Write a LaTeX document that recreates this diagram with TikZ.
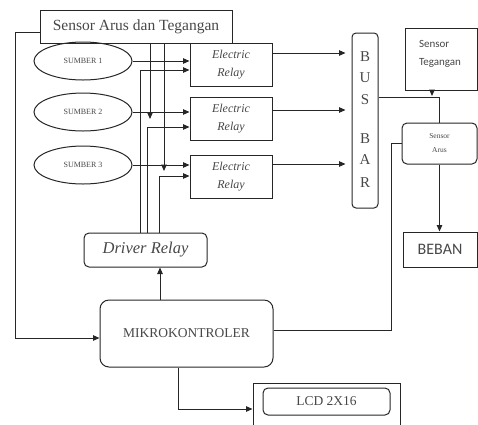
\documentclass[tikz,border=0pt]{standalone}
\usepackage{fontspec}
\setmainfont{Liberation Serif}
\newfontfamily\calfont{Carlito}
\usetikzlibrary{arrows.meta,shapes.geometric,calc}
\begin{document}
\begin{tikzpicture}[x=1pt,y=-1pt,
  box/.style={draw=black!85, line width=1pt, inner sep=0pt, align=center, text=black!72},
  rbox/.style={box, rounded corners=5pt},
  wire/.style={draw=black!85, line width=1pt},
  arr/.style={wire, -{Triangle[length=6.5pt,width=5.5pt]}},
  lbl/.style={inner sep=0pt, text=black!72, align=center},
]
\useasboundingbox (0,0) rectangle (478,424);
\clip (0,0) rectangle (478,424);

% boxes
\node[box, minimum width=192, minimum height=33, font=\fontsize{15.5}{17}\selectfont] (sens) at (136,26.5) {Sensor Arus dan Tegangan};
\foreach \n/\y/\t in {s1/61/SUMBER 1, s2/112/SUMBER 2, s3/165/SUMBER 3}
  \node[box, ellipse, minimum width=98, minimum height=38, font=\fontsize{8}{9}\selectfont] (\n) at (83,\y) {\t};
\foreach \n/\y in {r1/64.5, r2/118.5, r3/176.5}
  \node[box, minimum width=82, minimum height=43, font=\fontsize{12}{18}\selectfont\itshape] (\n) at (231,\y) {Electric\\Relay};
\node[rbox, rounded corners=4pt, minimum width=26, minimum height=175] (bus) at (365,120.5) {};
\foreach \l/\y [count=\i] in {B/57, U/78, S/100, B/139, A/160, R/183}
  \node[lbl, font=\fontsize{15}{15}\selectfont] (bl\i) at (365,\y) {\l};
\node[box, minimum width=72, minimum height=62] (st) at (441,59) {};
\node[lbl, align=left, font=\calfont\fontsize{11}{18}\selectfont] (sttxt) at (440,54) {Sensor\\Tegangan};
\node[rbox, minimum width=75, minimum height=41, font=\fontsize{7.5}{14}\selectfont] (sa) at (439.5,143.5) {Sensor\\Arus};
\node[box, minimum width=74, minimum height=35, font=\calfont\fontsize{16}{18}\selectfont] (bb) at (440,249.5) {BEBAN};
\node[rbox, minimum width=123, minimum height=34, font=\fontsize{16.5}{18}\selectfont\itshape] (dr) at (145.5,250) {Driver Relay};
\node[rbox, rounded corners=9pt, minimum width=173, minimum height=67, font=\fontsize{13.5}{15}\selectfont] (mk) at (186.5,333.5) {MIKROKONTROLER};
\node[box, minimum width=147, minimum height=52] (lcdo) at (326.5,409) {};
\node[rbox, minimum width=127, minimum height=27, font=\fontsize{13.5}{15}\selectfont] (lcd) at (326.5,401.5) {LCD 2X16};

% free ends
\coordinate (j2) at (150,119);
\coordinate (j3) at (164,171);
\coordinate (jt) at (432,96);

% connectors
\draw[arr] (sens.west |- 0,32) -| (15,338) -- (mk.west |- 0,338);
\draw[arr] (s1.east) -- (r1.west |- s1.east);
\draw[arr] (s2.east) -- (r2.west |- s2.east);
\draw[arr] (s3.east) -- (r3.west |- s3.east);
\draw[arr] (dr.north -| 140,0) |- (r1.west |- 0,70);
\draw[arr] (dr.north -| 147,0) |- (r2.west |- 0,127);
\draw[arr] (dr.north -| 159,0) |- (r3.west |- 0,176);
\draw[arr] (sens.south -| j2) -- (j2);
\draw[arr] (sens.south -| j3) -- (j3);
\draw[arr, shorten >=6pt] (r1.east |- 0,53) -- (bus.west |- 0,53);
\draw[arr, shorten >=6pt] (r2.east |- 0,110) -- (bus.west |- 0,110);
\draw[arr, shorten >=6pt] (r3.east |- 0,164) -- (bus.west |- 0,164);
\draw[wire] (bus.east |- 0,97) -| (sa.north);
\draw[arr] (st.south -| jt) -- (jt);
\draw[arr] (sa.south) -- (sa.south |- bb.north);
\draw[wire] (sa.west) -| (391,330) -- (mk.east |- 0,330);
\draw[arr] (mk.north -| 160,0) -- (dr.south -| 160,0);
\draw[arr] (mk.south -| 178,0) |- (lcdo.west);
\end{tikzpicture}
\end{document}
